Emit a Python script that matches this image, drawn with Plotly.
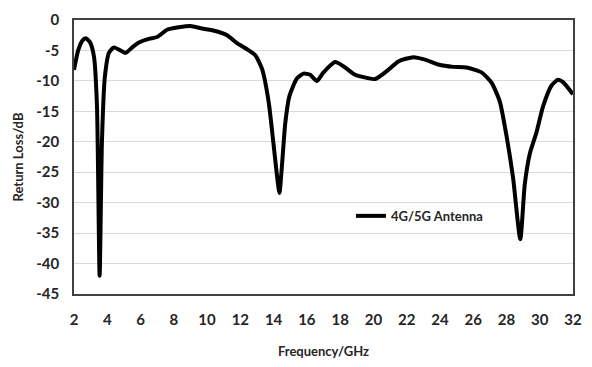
import plotly.graph_objects as go

freq = [2.0, 2.25, 2.5, 2.7, 2.95, 3.2, 3.38, 3.54, 3.68, 3.85, 4.1, 4.4, 4.8, 5.1, 5.5, 5.9, 6.5, 7.0, 7.6, 8.3, 9.0, 9.7,
        10.5, 11.2, 11.8, 12.4, 12.9, 13.3, 13.7, 14.0, 14.2, 14.35, 14.5, 14.7, 14.95, 15.4, 15.8, 16.2, 16.6, 17.0,
        17.7, 18.2, 18.9, 19.6, 20.1, 20.8, 21.5, 22.4, 23.1, 23.9, 24.8, 25.6, 26.5, 27.1, 27.6, 28.0, 28.4,
        28.83, 29.1, 29.4, 29.8, 30.2, 30.7, 31.1, 31.4, 32.0]
rl = [-8.2, -5.0, -3.4, -3.0, -3.6, -6.0, -14.0, -42.0, -20.0, -9.5, -5.4, -4.5, -5.0, -5.4, -4.5, -3.7, -3.1, -2.8, -1.6, -1.2, -1.0, -1.4,
      -1.8, -2.5, -3.8, -4.8, -5.8, -8.0, -13.4, -20.5, -25.5, -28.4, -24.0, -17.0, -12.5, -9.6, -8.8, -9.0, -10.0, -8.6,
      -6.9, -7.6, -9.0, -9.5, -9.7, -8.4, -6.8, -6.1, -6.5, -7.3, -7.7, -7.8, -8.6, -10.3, -13.4, -19.0, -26.0,
      -36.0, -27.0, -22.0, -18.5, -14.2, -10.8, -9.8, -10.2, -12.2]

x_ticks = list(range(2, 33, 2))
y_ticks = list(range(-45, 1, 5))

font_family = "Lato, 'Open Sans', sans-serif"

fig = go.Figure()
fig.add_trace(go.Scatter(
    x=freq, y=rl, mode="lines", name="<b>4G/5G Antenna</b>",
    line=dict(color="black", width=4, shape="spline", smoothing=0.6),
))

fig.update_layout(
    width=592, height=367,
    margin=dict(l=74, r=10, t=10, b=72),
    paper_bgcolor="white", plot_bgcolor="white",
    font=dict(family=font_family, size=15, color="#262626"),
    legend=dict(x=0.555, y=0.285, xanchor="left", yanchor="middle",
                bgcolor="rgba(0,0,0,0)", font=dict(size=13, color="#262626", family=font_family),
                itemwidth=30),
    xaxis=dict(
        range=[2, 32], tickvals=x_ticks, ticktext=[f"<b>{v}</b>" for v in x_ticks],
        showgrid=False, zeroline=False, showline=True, linecolor="#404040", linewidth=1.5, mirror=True,
        ticks="", ticklabelstandoff=11,
        title=dict(text="<b>Frequency/GHz</b>", font=dict(size=13), standoff=20),
    ),
    yaxis=dict(
        range=[-45, 0], tickvals=y_ticks, ticktext=[f"<b>{v}</b>" for v in y_ticks],
        showgrid=True, gridcolor="#d9d9d9", gridwidth=1, zeroline=False,
        showline=True, linecolor="#404040", linewidth=1.5, mirror=True,
        ticks="", ticklabelstandoff=10,
        title=dict(text="<b>Return Loss/dB</b>", font=dict(size=13), standoff=10),
    ),
    showlegend=True,
)

fig.write_html("out.html")
